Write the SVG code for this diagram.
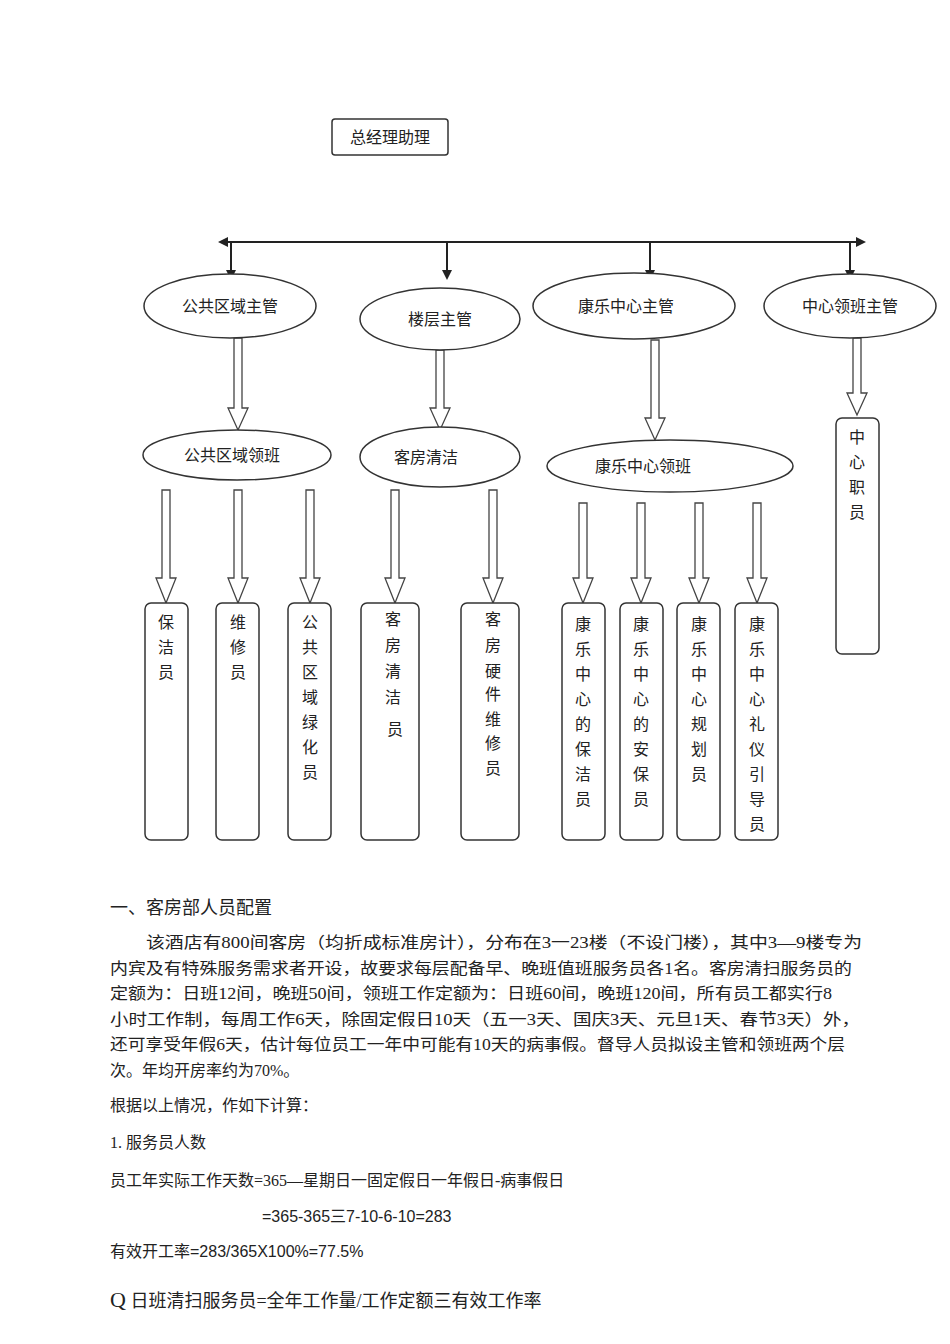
<svg xmlns="http://www.w3.org/2000/svg" width="950" height="1344" viewBox="0 0 950 1344">
<style>
text{font-family:"Liberation Serif","Noto Sans CJK SC",serif;fill:#222}
.n{fill:#fff;stroke:#333;stroke-width:1.5}
.v{font-size:16px;text-anchor:middle}
.c{text-anchor:middle;font-size:16px}
.ln{stroke:#222;stroke-width:2;fill:none}
.h{fill:#fff;stroke:#444;stroke-width:1.3}
.p{font-size:16px}
</style>
<defs>
<marker id="a" markerWidth="10" markerHeight="10" refX="8" refY="5" orient="auto" markerUnits="userSpaceOnUse"><path d="M0,0 L10,5 L0,10z" fill="#222"/></marker>
</defs>
<rect width="950" height="1344" fill="#fff"/>
<g id="connectors">
<line class="ln" x1="541" y1="242" x2="220" y2="242" marker-end="url(#a)"/>
<line class="ln" x1="541" y1="242" x2="864" y2="242" marker-end="url(#a)"/>
<line class="ln" x1="231" y1="242" x2="231" y2="278" marker-end="url(#a)"/>
<line class="ln" x1="447" y1="242" x2="447" y2="278" marker-end="url(#a)"/>
<line class="ln" x1="650" y1="242" x2="650" y2="278" marker-end="url(#a)"/>
<line class="ln" x1="850" y1="242" x2="850" y2="278" marker-end="url(#a)"/>
<g class="h">
<path d="M234,338 h8 v70 h6 l-10,22 l-10,-22 h6z"/>
<path d="M436,350 h8 v58 h6 l-10,22 l-10,-22 h6z"/>
<path d="M651,340 h8 v78 h6 l-10,22 l-10,-22 h6z"/>
<path d="M853,338 h8 v55 h6 l-10,22 l-10,-22 h6z"/>
<path d="M162,490 h8 v88 h6 l-10,25 l-10,-25 h6z"/>
<path d="M234,490 h8 v88 h6 l-10,25 l-10,-25 h6z"/>
<path d="M306,490 h8 v88 h6 l-10,25 l-10,-25 h6z"/>
<path d="M391,490 h8 v88 h6 l-10,25 l-10,-25 h6z"/>
<path d="M489,490 h8 v88 h6 l-10,25 l-10,-25 h6z"/>
<path d="M579,503 h8 v75 h6 l-10,25 l-10,-25 h6z"/>
<path d="M637,503 h8 v75 h6 l-10,25 l-10,-25 h6z"/>
<path d="M695,503 h8 v75 h6 l-10,25 l-10,-25 h6z"/>
<path d="M753,503 h8 v75 h6 l-10,25 l-10,-25 h6z"/>
</g>
</g>
<g id="n0"><rect class="n" x="332" y="119" width="116" height="36" rx="3"/><text class="c" x="390" y="143">总经理助理</text></g>
<g id="n1"><ellipse class="n" cx="230" cy="306" rx="86" ry="32"/><text class="c" x="230" y="312">公共区域主管</text></g>
<g id="n2"><ellipse class="n" cx="440" cy="319" rx="80" ry="31"/><text class="c" x="440" y="325">楼层主管</text></g>
<g id="n3"><ellipse class="n" cx="634" cy="306" rx="101" ry="33"/><text class="c" x="626" y="312">康乐中心主管</text></g>
<g id="n4"><ellipse class="n" cx="850" cy="306" rx="86" ry="32"/><text class="c" x="850" y="312">中心领班主管</text></g>
<g id="n5"><ellipse class="n" cx="237" cy="455" rx="94" ry="25"/><text class="c" x="232" y="461">公共区域领班</text></g>
<g id="n6"><ellipse class="n" cx="440" cy="457" rx="80" ry="30"/><text class="c" x="426" y="463">客房清洁</text></g>
<g id="n7"><ellipse class="n" cx="670" cy="466" rx="123" ry="26"/><text class="c" x="643" y="472">康乐中心领班</text></g>
<g id="n8"><rect class="n" x="836" y="418" width="43" height="236" rx="6"/><text class="v" x="857" y="443">中</text><text class="v" x="857" y="468">心</text><text class="v" x="857" y="493">职</text><text class="v" x="857" y="518">员</text></g>
<g id="n9"><rect class="n" x="145" y="603" width="43" height="237" rx="6"/><text class="v" x="166" y="628">保</text><text class="v" x="166" y="653">洁</text><text class="v" x="166" y="678">员</text></g>
<g id="n10"><rect class="n" x="216" y="603" width="43" height="237" rx="6"/><text class="v" x="238" y="628">维</text><text class="v" x="238" y="653">修</text><text class="v" x="238" y="678">员</text></g>
<g id="n11"><rect class="n" x="288" y="603" width="43" height="237" rx="6"/><text class="v" x="310" y="628">公</text><text class="v" x="310" y="653">共</text><text class="v" x="310" y="678">区</text><text class="v" x="310" y="703">域</text><text class="v" x="310" y="728">绿</text><text class="v" x="310" y="753">化</text><text class="v" x="310" y="778">员</text></g>
<g id="n12"><rect class="n" x="361" y="603" width="58" height="237" rx="6"/><text class="v" x="393" y="625">客</text><text class="v" x="393" y="651">房</text><text class="v" x="393" y="677">清</text><text class="v" x="393" y="703">洁</text><text class="v" x="395" y="735">员</text></g>
<g id="n13"><rect class="n" x="461" y="603" width="58" height="237" rx="6"/><text class="v" x="493" y="625">客</text><text class="v" x="493" y="651">房</text><text class="v" x="493" y="677">硬</text><text class="v" x="493" y="700">件</text><text class="v" x="493" y="725">维</text><text class="v" x="493" y="749">修</text><text class="v" x="493" y="774">员</text></g>
<g id="n14"><rect class="n" x="562" y="603" width="43" height="237" rx="6"/><text class="v" x="583" y="630">康</text><text class="v" x="583" y="655">乐</text><text class="v" x="583" y="680">中</text><text class="v" x="583" y="705">心</text><text class="v" x="583" y="730">的</text><text class="v" x="583" y="755">保</text><text class="v" x="583" y="780">洁</text><text class="v" x="583" y="805">员</text></g>
<g id="n15"><rect class="n" x="620" y="603" width="43" height="237" rx="6"/><text class="v" x="641" y="630">康</text><text class="v" x="641" y="655">乐</text><text class="v" x="641" y="680">中</text><text class="v" x="641" y="705">心</text><text class="v" x="641" y="730">的</text><text class="v" x="641" y="755">安</text><text class="v" x="641" y="780">保</text><text class="v" x="641" y="805">员</text></g>
<g id="n16"><rect class="n" x="677" y="603" width="43" height="237" rx="6"/><text class="v" x="699" y="630">康</text><text class="v" x="699" y="655">乐</text><text class="v" x="699" y="680">中</text><text class="v" x="699" y="705">心</text><text class="v" x="699" y="730">规</text><text class="v" x="699" y="755">划</text><text class="v" x="699" y="780">员</text></g>
<g id="n17"><rect class="n" x="735" y="603" width="43" height="237" rx="6"/><text class="v" x="757" y="630">康</text><text class="v" x="757" y="655">乐</text><text class="v" x="757" y="680">中</text><text class="v" x="757" y="705">心</text><text class="v" x="757" y="730">礼</text><text class="v" x="757" y="755">仪</text><text class="v" x="757" y="780">引</text><text class="v" x="757" y="805">导</text><text class="v" x="757" y="830">员</text></g>
<g id="body">
<text x="110" y="914" style="font-size:18px">一、客房部人员配置</text>
<text class="p" x="146" y="948" textLength="716" lengthAdjust="spacingAndGlyphs">该酒店有800间客房（均折成标准房计），分布在3一23楼（不设门楼），其中3—9楼专为</text>
<text class="p" x="110" y="974" textLength="742" lengthAdjust="spacingAndGlyphs">内宾及有特殊服务需求者开设，故要求每层配备早、晚班值班服务员各1名。客房清扫服务员的</text>
<text class="p" x="110" y="999" textLength="722" lengthAdjust="spacingAndGlyphs">定额为：日班12间，晚班50间，领班工作定额为：日班60间，晚班120间，所有员工都实行8</text>
<text class="p" x="110" y="1025" textLength="750" lengthAdjust="spacingAndGlyphs">小时工作制，每周工作6天，除固定假日10天（五一3天、国庆3天、元旦1天、春节3天）外，</text>
<text class="p" x="110" y="1050" textLength="735" lengthAdjust="spacingAndGlyphs">还可享受年假6天，估计每位员工一年中可能有10天的病事假。督导人员拟设主管和领班两个层</text>
<text class="p" x="110" y="1076">次。年均开房率约为70%。</text>
<text class="p" x="110" y="1111">根据以上情况，作如下计算：</text>
<text class="p" x="110" y="1148">1. 服务员人数</text>
<text class="p" x="110" y="1186">员工年实际工作天数=365—星期日一固定假日一年假日-病事假日</text>
<text class="p" x="262" y="1222" style="font-family:'Liberation Sans','Noto Sans CJK SC',sans-serif">=365-365三7-10-6-10=283</text>
<text class="p" x="110" y="1257" style="font-family:'Liberation Sans','Noto Sans CJK SC',sans-serif">有效开工率=283/365X100%=77.5%</text>
<text x="110" y="1307" style="font-size:18px"><tspan style="font-size:22px">Q</tspan> 日班清扫服务员=全年工作量/工作定额三有效工作率</text>
</g>
</svg>
